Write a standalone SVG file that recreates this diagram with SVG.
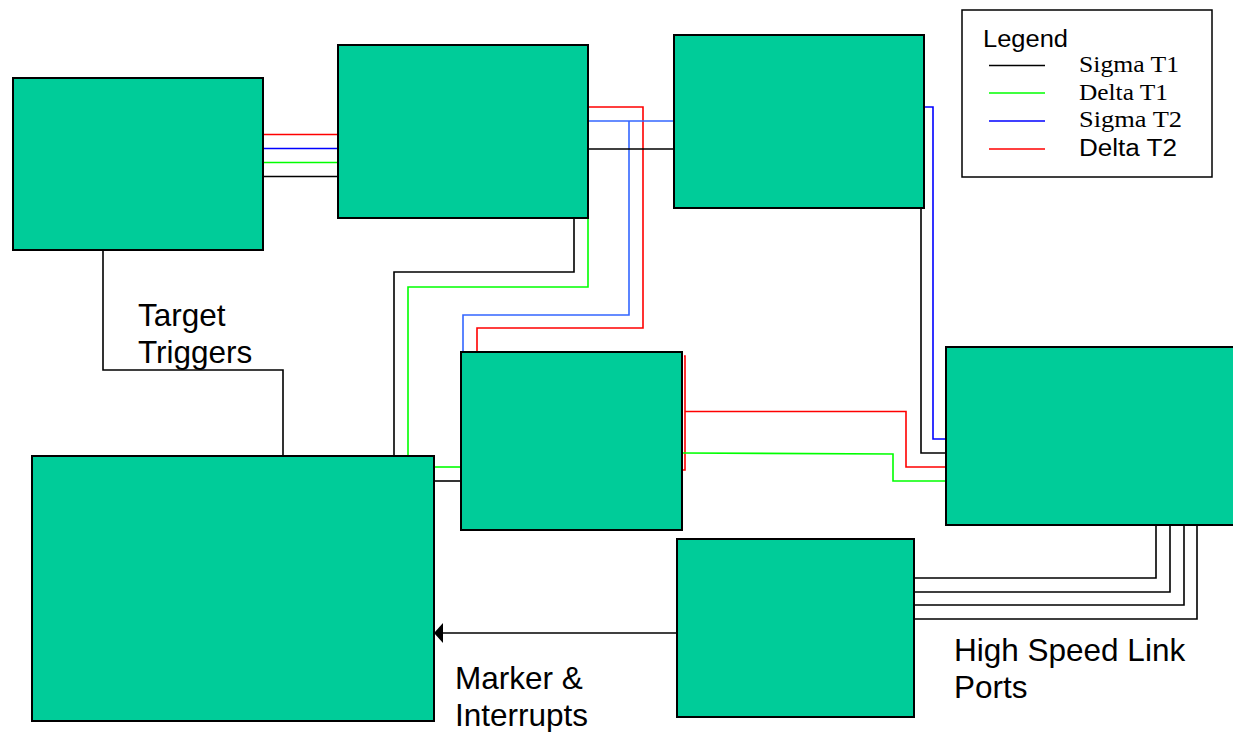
<svg xmlns="http://www.w3.org/2000/svg" width="1233" height="732" viewBox="0 0 1233 732">
<style>
.box{fill:#00CC99;stroke:#000;stroke-width:2}
.w{fill:none;stroke-width:1.6}
.k{stroke:#000}.g{stroke:#00FF00}.b{stroke:#0000FF}.lb{stroke:#3366FF}.r{stroke:#FF0000}
.lbl{font-family:"Liberation Sans",Arial,sans-serif;font-size:31.5px;fill:#000}
.ser{font-family:"Liberation Serif","Times New Roman",serif;font-size:23px;fill:#000}
.san{font-family:"Liberation Sans",Arial,sans-serif;font-size:23px;fill:#000}
</style>
<rect width="1233" height="732" fill="#fff"/>
<g id="connectors">
<polyline class="w r" points="263,134.5 338,134.5"/>
<polyline class="w b" points="263,148.5 338,148.5"/>
<polyline class="w g" points="263,162.5 338,162.5"/>
<polyline class="w k" points="263,176.5 338,176.5"/>
<polyline class="w r" points="588,107 643,107 643,328 477,328 477,352"/>
<polyline class="w lb" points="588,121 674,121"/>
<polyline class="w lb" points="629,121 629,315 463,315 463,352"/>
<polyline class="w k" points="588,149 674,149"/>
<polyline class="w k" points="574,218 574,272 394,272 394,456"/>
<polyline class="w g" points="588,218 588,287 408,287 408,456"/>
<polyline class="w g" points="434,467 461,467"/>
<polyline class="w k" points="434,481 461,481"/>
<polyline class="w b" points="924,107 933,107 933,439 946,439"/>
<polyline class="w k" points="921,208 921,453 946,453"/>
<polyline class="w r" points="684,356 685,356 685,470 683,470"/>
<polyline class="w r" points="685,411.5 906,411.5 906,467 946,467"/>
<polyline class="w g" points="682,453 893,454 893,481 946,481"/>
<polyline class="w k" points="1156,525 1156,578 914,578"/>
<polyline class="w k" points="1170,525 1170,592 914,592"/>
<polyline class="w k" points="1184,525 1184,605 914,605"/>
<polyline class="w k" points="1197,525 1197,619 914,619"/>
<polyline class="w k" points="103,250 103,370 283,370 283,456"/>
<polyline class="w k" points="677,633 440,633"/>
<polygon points="434,633 443,623 443,643" fill="#000"/>
</g>
<g id="box1"><rect class="box" x="13" y="78" width="250" height="172"/></g>
<g id="box2"><rect class="box" x="338" y="45" width="250" height="173"/></g>
<g id="box3"><rect class="box" x="674" y="35" width="250" height="173"/></g>
<g id="box4"><rect class="box" x="461" y="352" width="221" height="178"/></g>
<g id="box5"><rect class="box" x="946" y="347" width="290" height="178"/></g>
<g id="box6"><rect class="box" x="32" y="456" width="402" height="265"/></g>
<g id="box7"><rect class="box" x="677" y="539" width="237" height="178"/></g>
<g id="labels">
<text class="lbl" x="138" y="326">Target</text>
<text class="lbl" x="138" y="363">Triggers</text>
<text class="lbl" x="954" y="661">High Speed Link</text>
<text class="lbl" x="954" y="698">Ports</text>
<text class="lbl" x="455" y="689">Marker &amp;</text>
<text class="lbl" x="455" y="726">Interrupts</text>
</g>
<g id="legend">
<rect x="962" y="10" width="250" height="167" fill="#fff" stroke="#000" stroke-width="1.5"/>
<text class="san" x="983" y="46.5" textLength="85" lengthAdjust="spacingAndGlyphs">Legend</text>
<line x1="989" y1="65.5" x2="1045" y2="65.5" stroke="#000" stroke-width="1.5"/>
<line x1="989" y1="93" x2="1045" y2="93" stroke="#00FF00" stroke-width="1.5"/>
<line x1="989" y1="121" x2="1045" y2="121" stroke="#0000FF" stroke-width="1.5"/>
<line x1="989" y1="149" x2="1045" y2="149" stroke="#FF0000" stroke-width="1.5"/>
<text class="ser" x="1079" y="71.5" textLength="100" lengthAdjust="spacingAndGlyphs">Sigma T1</text>
<text class="ser" x="1079" y="99.5" textLength="89" lengthAdjust="spacingAndGlyphs">Delta T1</text>
<text class="ser" x="1079" y="127" textLength="103" lengthAdjust="spacingAndGlyphs">Sigma T2</text>
<text class="san" x="1079" y="155.5" textLength="98" lengthAdjust="spacingAndGlyphs">Delta T2</text>
</g>
</svg>
